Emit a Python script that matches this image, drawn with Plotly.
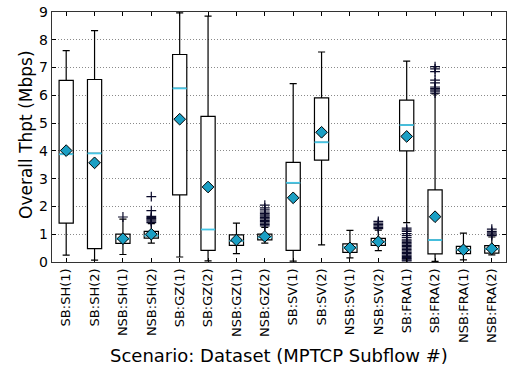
import plotly.graph_objects as go

labels = ["SB:SH(1)", "SB:SH(2)", "NSB:SH(1)", "NSB:SH(2)",
          "SB:GZ(1)", "SB:GZ(2)", "NSB:GZ(1)", "NSB:GZ(2)",
          "SB:SV(1)", "SB:SV(2)", "NSB:SV(1)", "NSB:SV(2)",
          "SB:FRA(1)", "SB:FRA(2)", "NSB:FRA(1)", "NSB:FRA(2)"]
positions = list(range(1, 17))

lower_whisker = [0.25, 0.07, 0.27, 0.68, 0.18, 0.04, 0.30, 0.68,
                 0.03, 0.62, 0.15, 0.41, 1.42, 0.02, 0.08, 0.26]
q1 = [1.40, 0.48, 0.67, 0.86, 2.42, 0.42, 0.60, 0.80,
      0.42, 3.67, 0.35, 0.60, 4.00, 0.29, 0.30, 0.32]
median = [3.88, 3.91, 0.84, 0.95, 6.25, 1.17, 0.76, 0.89,
          2.85, 4.31, 0.53, 0.72, 4.93, 0.79, 0.44, 0.47]
q3 = [6.54, 6.57, 1.00, 1.10, 7.47, 5.24, 0.98, 1.00,
      3.59, 5.91, 0.65, 0.85, 5.83, 2.60, 0.56, 0.59]
upper_whisker = [7.61, 8.33, 1.54, 1.38, 8.97, 8.85, 1.40, 1.25,
                 6.42, 7.56, 1.14, 1.15, 7.23, 6.05, 1.04, 0.90]
means = [4.01, 3.57, 0.84, 1.00, 5.14, 2.70, 0.79, 0.92,
         2.31, 4.67, 0.51, 0.73, 4.52, 1.63, 0.44, 0.48]

outliers = {
    3: [1.62],
    4: [1.42, 1.47, 1.52, 1.56, 1.60, 1.64, 1.85, 2.35],
    8: [1.30, 1.35, 1.40, 1.45, 1.50, 1.55, 1.60, 1.65, 1.70, 1.75,
        1.80, 1.88, 1.95, 2.05],
    12: [1.20, 1.25, 1.30, 1.35, 1.40, 1.46],
    13: [0.04, 0.08, 0.12, 0.16, 0.20, 0.25, 0.30, 0.35, 0.40, 0.45,
         0.50, 0.55, 0.60, 0.65, 0.70, 0.75, 0.80, 0.88, 0.95, 1.02,
         1.10, 1.16, 1.22],
    14: [6.08, 6.15, 6.20, 6.25, 6.30, 6.45, 6.55, 6.85, 6.95, 7.03],
    16: [0.95, 1.00, 1.05, 1.10, 1.18],
}

x_title = "Scenario: Dataset (MPTCP Subflow #)"
y_title = "Overall Thpt (Mbps)"

box_w = 0.5
fig = go.Figure()

fig.add_trace(go.Box(
    x=positions, q1=q1, median=median, q3=q3,
    lowerfence=lower_whisker, upperfence=upper_whisker,
    width=box_w, whiskerwidth=0.5,
    fillcolor="white", line=dict(color="black", width=1.2),
    boxpoints=False, showlegend=False, hoverinfo="skip",
))

# cyan median lines
mx, my = [], []
for p, m in zip(positions, median):
    mx += [p - box_w / 2, p + box_w / 2, None]
    my += [m, m, None]
fig.add_trace(go.Scatter(x=mx, y=my, mode="lines",
                         line=dict(color="#45c6e6", width=1.8),
                         showlegend=False, hoverinfo="skip"))

# outliers
ox, oy = [], []
for p, vals in outliers.items():
    ox += [p] * len(vals)
    oy += vals
fig.add_trace(go.Scatter(x=ox, y=oy, mode="markers",
                         marker=dict(symbol="cross-thin", size=7,
                                     line=dict(color="#0a0a2a", width=1.2)),
                         showlegend=False, hoverinfo="skip"))

# means
fig.add_trace(go.Scatter(x=positions, y=means, mode="markers",
                         marker=dict(symbol="diamond", size=9, color="#1a9fc4",
                                     line=dict(color="black", width=1)),
                         showlegend=False, hoverinfo="skip"))

fig.update_layout(
    width=513, height=369,
    margin=dict(l=52, r=7, t=12, b=107),
    plot_bgcolor="white", paper_bgcolor="white",
    font=dict(family="DejaVu Sans", color="black"),
    annotations=[
        dict(text=x_title, xref="paper", yref="paper", x=0.5, y=0,
             xanchor="center", yanchor="middle", yshift=-93,
             showarrow=False, font=dict(size=18)),
        dict(text=y_title, xref="paper", yref="paper", x=0, y=0.5,
             xanchor="center", yanchor="middle", xshift=-26, yshift=2,
             textangle=-90, showarrow=False, font=dict(size=17)),
    ],
)
fig.update_xaxes(
    range=[0.5, 16.5], tickmode="array", tickvals=positions, ticktext=labels,
    tickangle=-90, tickfont=dict(size=13), automargin=False,
    ticks="inside", ticklen=4, tickcolor="black",
    showline=True, linecolor="#333333", linewidth=1.2, mirror="ticks",
    showgrid=False, zeroline=False,
)
fig.update_yaxes(
    range=[0, 9], tickmode="linear", dtick=1, tick0=0,
    tickfont=dict(size=14), automargin=False,
    ticks="inside", ticklen=4, tickcolor="black",
    showline=True, linecolor="#333333", linewidth=1.2, mirror="ticks",
    showgrid=True, gridcolor="#8a8a8a", griddash="1px,2px", gridwidth=1,
    zeroline=False,
)

fig.write_html("out.html",
               config={"displayModeBar": False, "staticPlot": True},
               post_script="document.body.style.margin='0';document.body.style.overflow='hidden';")
